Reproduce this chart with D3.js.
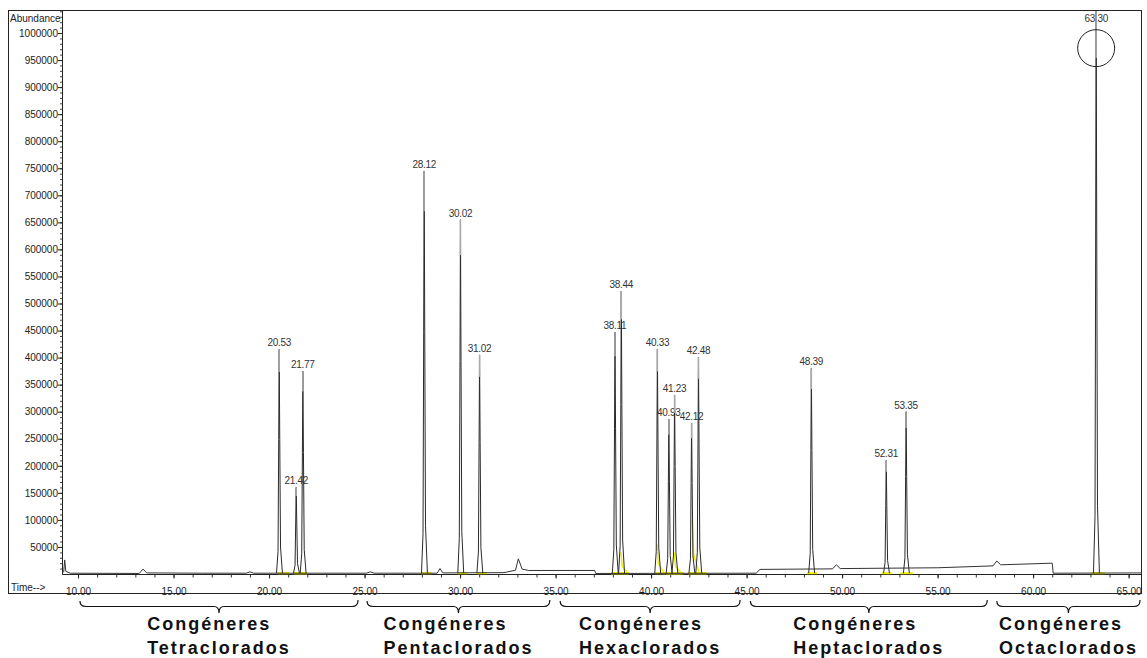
<!DOCTYPE html>
<html>
<head>
<meta charset="utf-8">
<script src="https://cdn.jsdelivr.net/npm/d3@7"></script>
<style>
  body { margin: 0; background: #fff; }
  svg text { font-family: "Liberation Sans", Arial, sans-serif; }
</style>
</head>
<body>
<svg id="chart" width="1147" height="658"></svg>
<script>
// retention times (min) and abundances
var peakTimes = [20.53, 21.42, 21.77, 28.12, 30.02, 31.02, 38.11, 38.44, 40.33, 40.93, 41.23, 42.12, 42.48, 48.39, 52.31, 53.35, 63.30];
var peakHeights = [415000, 160000, 375000, 745000, 655000, 405000, 447000, 523000, 416000, 286000, 331000, 279000, 401000, 380000, 210000, 300000, 1060000];
var peakLabels = ["20.53", "21.42", "21.77", "28.12", "30.02", "31.02", "38.11", "38.44", "40.33", "40.93", "41.23", "42.12", "42.48", "48.39", "52.31", "53.35", "63.30"];

// baseline trace between the peaks
var baseTimes = [9.16, 9.25, 9.3, 9.36, 9.6, 13.2, 13.4, 13.6, 16.5, 18.8, 19.0, 19.2, 25.1, 25.3, 25.5, 28.8, 28.95, 29.1, 32.3, 32.9, 33.05, 33.25, 33.6, 37.05, 37.1, 45.5, 45.7, 49.5, 49.7, 49.9, 55.0, 57.9, 58.1, 58.3, 61.0, 61.05, 65.7];
var baseValues = [4000, 4000, 26000, 5000, 1500, 1000, 9000, 2000, 1500, 1500, 4000, 1500, 1500, 4000, 1500, 1500, 10000, 2000, 2500, 7000, 28000, 9000, 6500, 6500, 1000, 1500, 8500, 9500, 17000, 10000, 11500, 15000, 24000, 17000, 20000, 1500, 2000];

// yellow integration marks
var integStart = [20.45, 21.3, 21.3, 27.95, 29.85, 30.85, 37.9, 37.9, 40.2, 40.8, 40.8, 41.95, 41.95, 48.15, 52.05, 53.05, 63.05];
var integEnd = [21.05, 22.0, 22.0, 28.5, 30.4, 31.4, 38.85, 38.85, 41.6, 41.7, 41.7, 42.9, 42.9, 48.7, 52.6, 53.7, 63.75];
var tailTimes = [38.44, 40.33, 41.23, 42.18];
var tailHeights = [40000, 55000, 40000, 100000];

// congener groups under the time axis
var groupTitle = "Congéneres";
var groupNames = ["Tetraclorados", "Pentaclorados", "Hexaclorados", "Heptaclorados", "Octaclorados"];
var groupStart = [10.1, 25.13, 35.24, 45.2, 58.1];
var groupEnd = [24.66, 34.7, 44.66, 57.6, 65.6];

var yTicks = [50000, 100000, 150000, 200000, 250000, 300000, 350000, 400000, 450000, 500000, 550000, 600000, 650000, 700000, 750000, 800000, 850000, 900000, 950000, 1000000];
var xTicks = [10, 15, 20, 25, 30, 35, 40, 45, 50, 55, 60, 65];
var circleMark = { t: 63.30, v: 972000 };

(function() {
  var svg, x, y, plot, line, frame;
  svg = d3.select('#chart');
  frame = { left: 8.5, top: 10.5, right: 1141.5, bottom: 593.5 };

  x = d3.scaleLinear().domain([9.16, 65.7]).range([62, 1142]);
  y = d3.scaleLinear().domain([0, 1000000]).range([574, 33]);

  svg.append('defs').append('clipPath').attr('id', 'plotclip')
    .append('rect').attr('x', 62).attr('y', 11).attr('width', 1080).attr('height', 570);

  svg.append('rect')
    .attr('x', frame.left).attr('y', frame.top)
    .attr('width', frame.right - frame.left).attr('height', frame.bottom - frame.top)
    .attr('fill', 'none').attr('stroke', '#222').attr('stroke-width', 1);

  // y axis
  var minorY = d3.range(10000, 1040001, 10000);
  svg.append('g').attr('transform', 'translate(62,0)')
    .call(d3.axisLeft(y).tickValues(minorY).tickSize(2).tickFormat(''))
    .call(function(g) { g.select('.domain').remove(); g.selectAll('line').attr('stroke', '#444'); });
  svg.append('g').attr('transform', 'translate(62,0)')
    .call(d3.axisLeft(y).tickValues(yTicks).tickSize(4).tickPadding(0).tickFormat(d3.format('d')))
    .call(function(g) {
      g.select('.domain').remove();
      g.selectAll('line').attr('stroke', '#222');
      g.selectAll('text').attr('font-size', 10).attr('fill', '#222')
        .attr('font-family', '"Liberation Sans", Arial, sans-serif');
    });
  svg.append('line').attr('x1', 62.5).attr('x2', 62.5).attr('y1', 10).attr('y2', 575)
    .attr('stroke', '#222');
  svg.append('text').attr('x', 10).attr('y', 22).attr('font-size', 10).attr('fill', '#222')
    .text('Abundance');

  // x axis
  var minorX = d3.range(10, 66, 1);
  svg.append('g').attr('transform', 'translate(0,574.5)')
    .call(d3.axisBottom(x).tickValues(minorX).tickSize(3).tickFormat(''))
    .call(function(g) { g.select('.domain').remove(); g.selectAll('line').attr('stroke', '#333'); });
  svg.append('g').attr('transform', 'translate(0,574.5)')
    .call(d3.axisBottom(x).tickValues(xTicks).tickSize(4).tickPadding(9).tickFormat(d3.format('.2f')))
    .call(function(g) {
      g.select('.domain').remove();
      g.selectAll('line').attr('stroke', '#222');
      g.selectAll('text').attr('font-size', 10).attr('fill', '#222')
        .attr('font-family', '"Liberation Sans", Arial, sans-serif');
    });
  svg.append('line').attr('x1', 62).attr('x2', 1142).attr('y1', 574.5).attr('y2', 574.5)
    .attr('stroke', '#222');
  svg.append('text').attr('x', 11).attr('y', 591).attr('font-size', 10).attr('fill', '#222')
    .text('Time-->');

  plot = svg.append('g').attr('clip-path', 'url(#plotclip)');

  // peak labels (drawn under the trace, as in the original)
  plot.selectAll('text.lbl').data(peakTimes).enter().append('text')
    .attr('class', 'lbl')
    .attr('x', function(t) { return x(t); })
    .attr('y', function(t, i) { return Math.max(y(peakHeights[i]) - 3, 22); })
    .attr('text-anchor', 'middle').attr('font-size', 10).attr('letter-spacing', '-0.3px')
    .attr('fill', '#333')
    .text(function(t, i) { return peakLabels[i]; });

  line = d3.line().x(function(d) { return x(d[0]); }).y(function(d) { return y(d[1]); });

  // yellow integration baselines and tails
  plot.selectAll('line.integ').data(peakTimes).enter().append('line')
    .attr('x1', function(t, i) { return x(integStart[i]); })
    .attr('x2', function(t, i) { return x(integEnd[i]); })
    .attr('y1', y(1500)).attr('y2', y(1500))
    .attr('stroke', '#f0f000').attr('stroke-width', 2);
  plot.selectAll('path.tail').data(tailTimes).enter().append('path')
    .attr('d', function(t, i) {
      return line([[t - 0.02, tailHeights[i]], [t + 0.05, tailHeights[i] * 0.35], [t + 0.35, 1500]]);
    })
    .attr('fill', 'none').attr('stroke', '#f0f000').attr('stroke-width', 1.5);

  // baseline trace
  plot.append('path')
    .datum(baseTimes.map(function(t, i) { return [t, baseValues[i]]; }))
    .attr('d', line)
    .attr('fill', 'none').attr('stroke', '#333').attr('stroke-width', 1);

  // peaks
  plot.selectAll('path.peak').data(peakTimes).enter().append('path')
    .attr('class', 'peak')
    .attr('d', function(t, i) {
      var h = peakHeights[i];
      return line([[t - 0.14, 1500], [t - 0.06, h * 0.1], [t - 0.025, h * 0.6], [t, h],
        [t + 0.03, h * 0.6], [t + 0.07, h * 0.12], [t + 0.17, 1500]]);
    })
    .attr('fill', 'none').attr('stroke', '#2a2a2a').attr('stroke-width', 1);
  plot.selectAll('line.tip').data(peakTimes).enter().append('line')
    .attr('x1', function(t) { return x(t); }).attr('x2', function(t) { return x(t); })
    .attr('y1', function(t, i) { return y(peakHeights[i]); })
    .attr('y2', function(t, i) { return y(peakHeights[i] * 0.9); })
    .attr('stroke', '#aaa').attr('stroke-width', 1.5);

  // circled main peak
  svg.append('circle')
    .attr('cx', x(circleMark.t)).attr('cy', y(circleMark.v)).attr('r', 18.5)
    .attr('fill', 'none').attr('stroke', '#222').attr('stroke-width', 1);

  // group braces and names
  var groups = svg.selectAll('g.grp').data(groupNames).enter().append('g').attr('class', 'grp');
  groups.append('path')
    .attr('d', function(n, i) {
      var x0 = x(groupStart[i]), x1 = x(groupEnd[i]), xc = (x0 + x1) / 2;
      return 'M' + x0 + ',601 Q' + x0 + ',606.5 ' + (x0 + 6) + ',606.5 L' + (xc - 5) + ',606.5' +
        ' Q' + xc + ',606.5 ' + xc + ',613 Q' + xc + ',606.5 ' + (xc + 5) + ',606.5' +
        ' L' + (x1 - 6) + ',606.5 Q' + x1 + ',606.5 ' + x1 + ',600';
    })
    .attr('fill', 'none').attr('stroke', '#111').attr('stroke-width', 1.2);
  groups.each(function(n, i) {
    var g = d3.select(this), xc = (x(groupStart[i]) + x(groupEnd[i])) / 2, t1, t2, w;
    t1 = g.append('text').attr('y', 630).text(groupTitle);
    t2 = g.append('text').attr('y', 654).text(n);
    g.selectAll('text').attr('font-size', 18).attr('font-weight', 'bold')
      .attr('letter-spacing', '2px').attr('fill', '#111');
    w = Math.max(t1.node().getComputedTextLength(), t2.node().getComputedTextLength());
    g.selectAll('text').attr('x', xc - w / 2);
  });
}).call(this);
</script>
</body>
</html>
